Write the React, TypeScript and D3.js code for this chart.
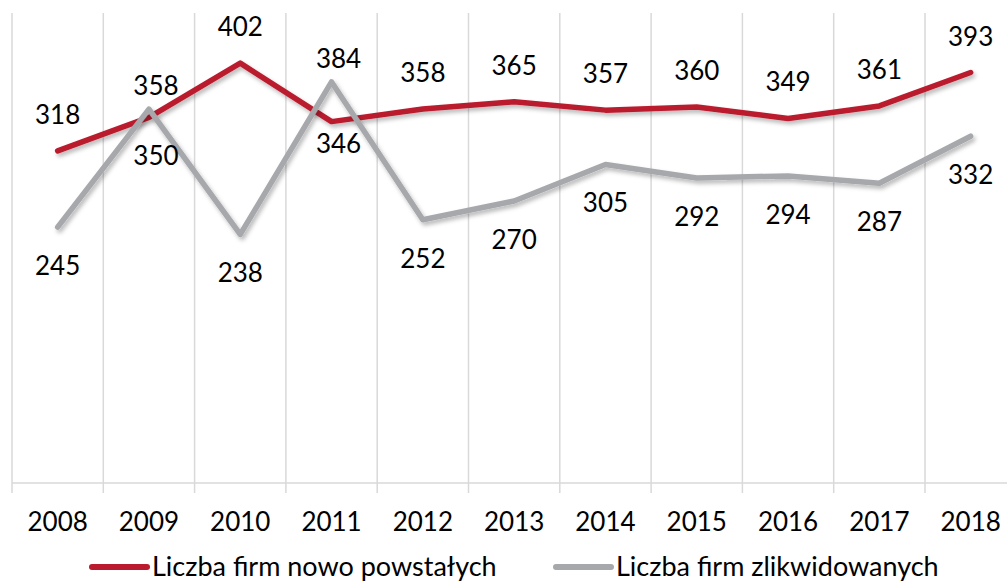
import React from 'react';
import * as d3 from 'd3';

const years = ['2008', '2009', '2010', '2011', '2012', '2013', '2014', '2015', '2016', '2017', '2018'];
const newFirms = [318, 350, 402, 346, 358, 365, 357, 360, 349, 361, 393];
const closedFirms = [245, 358, 238, 384, 252, 270, 305, 292, 294, 287, 332];
// label placement: a = above, b = below, n = nudged closer to the point, r = moved a bit right
const newLabelPos = ['a', 'br', 'a', 'bnr', 'a', 'a', 'a', 'a', 'a', 'a', 'a'];
const closedLabelPos = ['b', 'anr', 'b', 'anr', 'b', 'b', 'b', 'b', 'b', 'b', 'b'];
const seriesNames = ['Liczba firm nowo powstałych', 'Liczba firm zlikwidowanych'];
const yMax = 450;

const W = 1007;
const H = 581;
const RED = '#BA1B2E';
const GRAY = '#A6A8AB';
const GRID = '#D9D9D9';
const FONT = 'Lato, "Open Sans", sans-serif';

const App = () => {
  const x = d3.scaleBand().domain(years).range([12, 12 + 91.3 * years.length]).padding(0);
  const y = d3.scaleLinear().domain([0, yMax]).range([483, 13]);
  const cx = (yr: string) => (x(yr) as number) + x.bandwidth() / 2;

  const line = d3.line<number>()
    .x((_, i) => cx(years[i]))
    .y(d => y(d));

  const gridXs = years.map(yr => x(yr) as number).concat([x.range()[1]]);

  const labelY = (v: number, pos: string) => {
    const py = y(v);
    const near = pos.includes('n');
    if (pos[0] === 'a') return near ? py - 14 : py - 27;
    return near ? py + 31 : py + 48;
  };
  const labelDx = (pos: string) => (pos.includes('r') ? 7 : 0);

  const series = [
    { vals: newFirms, pos: newLabelPos, color: RED },
    { vals: closedFirms, pos: closedLabelPos, color: GRAY },
  ];

  return (
    <svg width={W} height={H} style={{ position: 'absolute', left: 0, top: 0, background: '#fff' }}>
      <defs>
        <filter id="shadow" x="-10%" y="-10%" width="120%" height="140%">
          <feDropShadow dx="2" dy="3" stdDeviation="2" floodColor="#000" floodOpacity="0.28" />
        </filter>
      </defs>
      <rect width={W} height={H} fill="#fff" />
      {gridXs.map((gx, i) => (
        <line key={i} x1={gx} x2={gx} y1={13} y2={493} stroke={GRID} strokeWidth={1.5} />
      ))}
      <line x1={12} x2={W} y1={y(0)} y2={y(0)} stroke={GRID} strokeWidth={1.5} />
      {years.map(yr => (
        <text key={yr} x={cx(yr)} y={531} textAnchor="middle" fontFamily={FONT} fontSize={26} fill="#000">
          {yr}
        </text>
      ))}
      {series.map((s, si) => (
        <path key={si} d={line(s.vals) || ''} fill="none" stroke={s.color} strokeWidth={5.5}
          strokeLinejoin="round" strokeLinecap="round" filter="url(#shadow)" />
      ))}
      {series.map((s, si) => s.vals.map((v, i) => (
        <text key={si + '-' + i} x={cx(years[i]) + labelDx(s.pos[i])} y={labelY(v, s.pos[i])}
          textAnchor="middle" fontFamily={FONT} fontSize={26} fill="#000">
          {v}
        </text>
      )))}
      {seriesNames.map((name, i) => {
        const lx = i === 0 ? 92 : 556;
        return (
          <g key={name}>
            <line x1={lx} x2={lx + 55} y1={567} y2={567} stroke={i === 0 ? RED : GRAY}
              strokeWidth={6} strokeLinecap="round" />
            <text x={lx + 60} y={576} fontFamily={FONT} fontSize={27} fill="#000">{name}</text>
          </g>
        );
      })}
    </svg>
  );
};

export default App;
